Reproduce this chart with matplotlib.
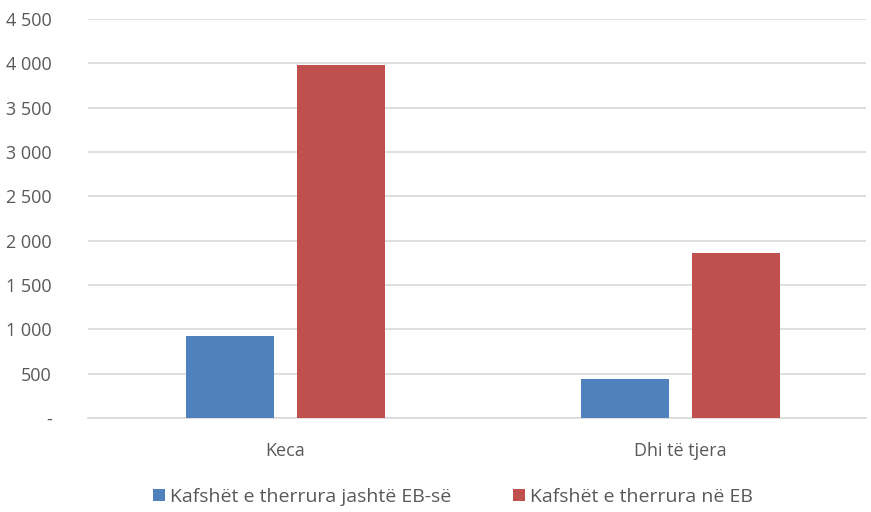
import matplotlib.pyplot as plt
from matplotlib.ticker import FuncFormatter

categories = ['Keca', 'Dhi të tjera']
outside_eu = [920, 440]
inside_eu = [3985, 1866]
series_names = ['Kafshët e therrura jashtë EB-së', 'Kafshët e therrura në EB']
colors = ['#4f81bd', '#c0504d']

plt.rcParams['font.family'] = ['Open Sans', 'DejaVu Sans']

fig = plt.figure(figsize=(8.71, 5.12), dpi=100)
ax = fig.add_axes([0.101, 0.1836, 0.893, 0.7794])

x = list(range(len(categories)))
w = 0.223
off = 0.141
ax.bar([i - off for i in x], outside_eu, w, color=colors[0], label=series_names[0], zorder=3)
ax.bar([i + off for i in x], inside_eu, w, color=colors[1], label=series_names[1], zorder=3)

ax.set_xlim(-0.5, 1.47)
ax.set_ylim(0, 4500)
ax.set_yticks(range(0, 4501, 500))

def fmt(v, pos):
    if v == 0:
        return '-'
    return f'{int(v):,}'.replace(',', ' ')

ax.yaxis.set_major_formatter(FuncFormatter(fmt))
ax.grid(axis='y', color='#d9d9d9', linewidth=1.2, zorder=0)
for s in ['top', 'right', 'left']:
    ax.spines[s].set_visible(False)
ax.spines['bottom'].set_color('#d9d9d9')
ax.spines['bottom'].set_linewidth(1.2)
ax.tick_params(axis='both', length=0, labelsize=13, labelcolor='#595959')
ax.tick_params(axis='y', pad=26)
ax.tick_params(axis='x', pad=17)
ax.set_xticks(x)
ax.set_xticklabels(categories)

fig.legend(loc='lower center', bbox_to_anchor=(0.52, -0.022), ncol=2, frameon=False,
           fontsize=14, labelcolor='#595959', handlelength=0.6, handleheight=0.6,
           handletextpad=0.25, columnspacing=3.2)

fig.savefig('out.png')
